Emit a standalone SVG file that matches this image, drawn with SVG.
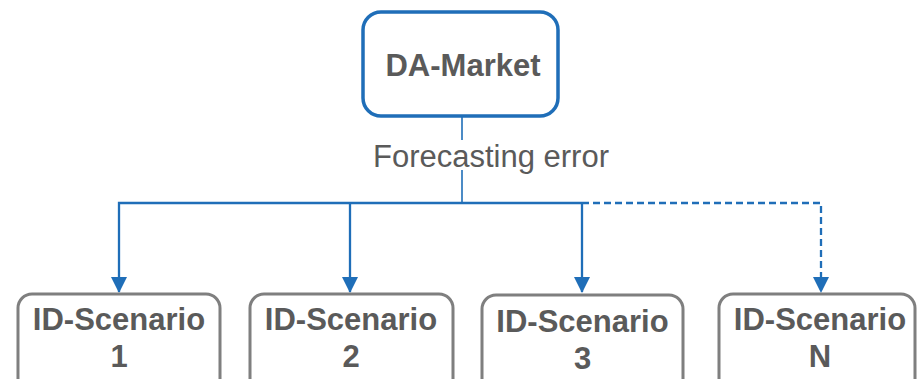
<svg xmlns="http://www.w3.org/2000/svg" width="924" height="379" viewBox="0 0 924 379">
  <defs>
    <marker id="arrow" viewBox="0 0 16 16" refX="15" refY="8" markerWidth="16" markerHeight="16" markerUnits="userSpaceOnUse" orient="auto">
      <path d="M0,0 L16,8 L0,16 Z" fill="#1F6EB8"/>
    </marker>
    <style>
      .wire { fill: none; stroke: #1F6EB8; stroke-width: 2.3; }
      .dash { stroke-dasharray: 7 4; }
      .stem { fill: none; stroke: #1F6EB8; stroke-width: 1.6; }
      .top { fill: #FFFFFF; stroke: #1F6EB8; stroke-width: 3.5; }
      .leaf { fill: #FFFFFF; stroke: #7F7F7F; stroke-width: 3; }
      .title { font-family: "Liberation Sans", Arial, sans-serif; font-weight: bold; fill: #5A5A5A; text-anchor: middle; font-size: 31px; }
      .note { font-family: "Liberation Sans", Arial, sans-serif; fill: #5A5A5A; text-anchor: middle; font-size: 31px; }
    </style>
  </defs>

  <!-- connectors -->
  <g id="connectors">
    <line class="stem" x1="462" y1="117" x2="462" y2="140"/>
    <line class="stem" x1="462" y1="170" x2="462" y2="203"/>
    <path class="wire" d="M582,203 H119 V292" marker-end="url(#arrow)"/>
    <line class="wire" x1="350" y1="203" x2="350" y2="292" marker-end="url(#arrow)"/>
    <line class="wire" x1="582" y1="203" x2="582" y2="292" marker-end="url(#arrow)"/>
    <path class="wire dash" d="M582,203 H821 V292" marker-end="url(#arrow)"/>
    <text class="note" x="491" y="167">Forecasting error</text>
  </g>

  <g id="da-market">
    <rect class="top" x="363" y="12" width="195" height="104" rx="18"/>
    <text class="title" x="463" y="76">DA-Market</text>
  </g>

  <g id="id-scenario-1">
    <rect class="leaf" x="18" y="294" width="202" height="110" rx="14"/>
    <text class="title" x="119" y="330">ID-Scenario</text>
    <text class="title" x="119" y="367">1</text>
  </g>

  <g id="id-scenario-2">
    <rect class="leaf" x="250" y="294" width="203" height="110" rx="14"/>
    <text class="title" x="351" y="330">ID-Scenario</text>
    <text class="title" x="351" y="367">2</text>
  </g>

  <g id="id-scenario-3">
    <rect class="leaf" x="482" y="295" width="201" height="110" rx="14"/>
    <text class="title" x="582.5" y="332">ID-Scenario</text>
    <text class="title" x="582.5" y="369">3</text>
  </g>

  <g id="id-scenario-n">
    <rect class="leaf" x="719" y="294" width="196" height="110" rx="14"/>
    <text class="title" x="820" y="330">ID-Scenario</text>
    <text class="title" x="820" y="367">N</text>
  </g>
</svg>
